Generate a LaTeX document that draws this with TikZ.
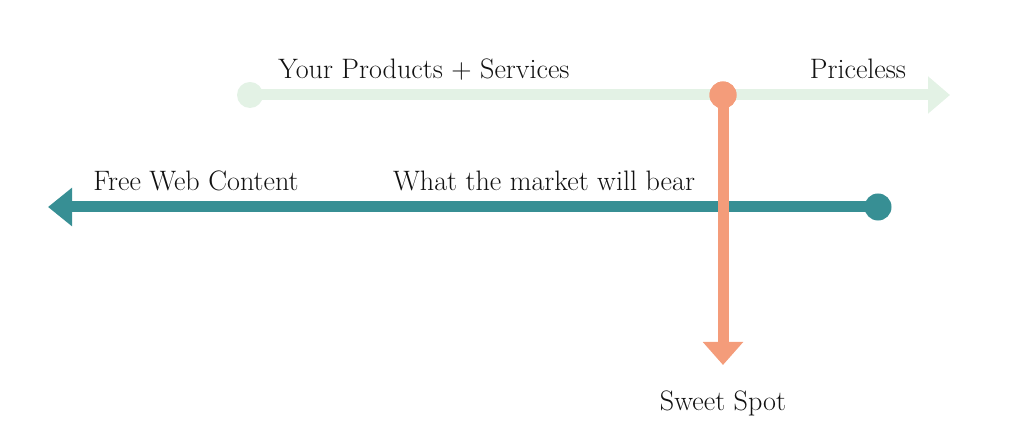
\documentclass[tikz,border=0pt]{standalone}
\usepackage{fontspec}
\usepackage{tikz}
\usetikzlibrary{positioning, arrows.meta, calc}
\usepackage{xcolor}
\definecolor{mkgreen}{HTML}{E3F2E5}
\definecolor{mkorange}{HTML}{F49C7A}
\definecolor{mkteal}{HTML}{378F94}
\definecolor{mktext}{HTML}{111111}

\begin{document}
\begin{tikzpicture}[x=0.025cm, y=-0.025cm,
        lbl/.style={text=mktext, anchor=base, inner sep=0pt,
              font=\fontsize{20}{24}\selectfont},
        dot/.style={circle, inner sep=0pt, minimum size=0.675cm}]
        \useasboundingbox (0,0) rectangle (1024,431);
        % top scale: products and services
        \node[dot, fill=mkgreen, minimum size=0.65cm] (prod) at (250,95) {};
        \coordinate (priceless) at (950,95);
        \draw[line width=0.275cm, color=mkgreen,
              -{Triangle[length=0.55cm, width=0.9cm]}] (prod.center) -- (priceless);
        \node[lbl] (prodlbl) at (424,79) {Your Products + Services};
        \node[lbl] (pricelbl) at (858,79) {Priceless};
        % lower scale: market
        \node[dot, fill=mkteal] (market) at (878,207) {};
        \coordinate (free) at (48,207);
        \draw[line width=0.275cm, color=mkteal,
              -{Triangle[length=0.6cm, width=0.925cm]}] (market.center) -- (free);
        \node[lbl] (freelbl) at (196,191) {Free Web Content};
        \node[lbl] (marketlbl) at (544,191) {What the market will bear};
        % sweet spot drop
        \node[dot, fill=mkorange] (spot) at (723,95) {};
        \coordinate (sweet) at (723,365);
        \draw[line width=0.275cm, color=mkorange,
              -{Triangle[length=0.575cm, width=0.975cm]}] (spot.center) -- (sweet);
        \node[dot, fill=mkorange] at (spot) {};
        \node[lbl] (sweetlbl) at (723,410) {Sweet Spot};
      \end{tikzpicture}
\end{document}
